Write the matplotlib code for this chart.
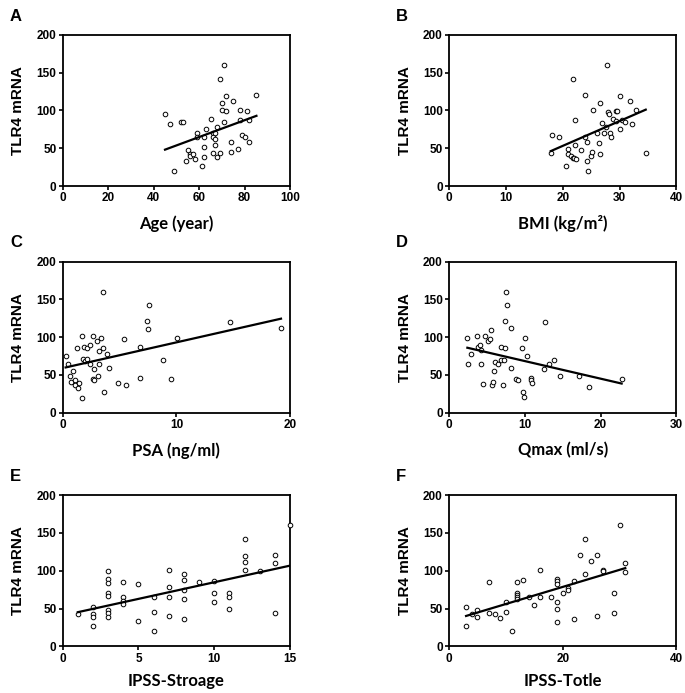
import numpy as np
import matplotlib
matplotlib.use("Agg")
import matplotlib.pyplot as plt

plt.rcParams['font.family'] = ['Liberation Sans', 'DejaVu Sans']

# A: Age
age_x = [45, 47, 49, 51.9, 53.1, 54.1, 55, 55.8, 56.2, 57.1, 58.1, 59, 59, 61.1, 62.1, 62.1, 62.1,
         63, 65.1, 66.1, 66.1, 66.1, 67, 67, 67, 68, 68, 69.1, 69.1, 70.1, 70.1, 71, 71, 72, 72,
         74.1, 74.1, 75, 77.1, 78.1, 78.1, 79, 80, 81.1, 82.1, 82.1, 85.2]
age_y = [94.9, 81.7, 19.9, 84.8, 84.8, 33.1, 48.1, 42.8, 39.7, 42.8, 36.2, 69.8, 65.3, 26.9, 52.1, 64.9, 38.0,
         75.1, 89.2, 69.8, 65.3, 44.2, 62.7, 69.8, 54.7, 77.7, 38.9, 141.7, 44.2, 100.7, 109.9, 160.3, 84.8, 119.6, 98.9,
         57.8, 45.0, 112.1, 49.0, 100.7, 87.0, 67.1, 65.3, 98.9, 58.7, 87.0, 121.0]

# B: BMI
bmi_x = [17.9, 18.1, 19.3, 20.6, 20.9, 20.9, 21.4, 21.8, 21.8, 22.0, 22.2, 22.2, 22.4, 23.2, 24.0, 24.0,
         24.2, 24.2, 24.5, 24.9, 25.2, 25.3, 26.1, 26.4, 26.5, 26.6, 26.9, 27.2, 27.6, 27.8, 27.9, 28.2,
         28.4, 28.5, 28.9, 29.3, 29.4, 29.6, 30.0, 30.0, 30.4, 31.0, 31.9, 32.1, 32.9, 34.6]
bmi_y = [43.6, 67.0, 64.8, 26.4, 48.9, 42.3, 39.2, 141.9, 37.0, 36.6, 86.8, 54.6, 35.7, 47.6, 120.7, 64.8,
         58.6, 32.6, 19.8, 39.6, 44.9, 100.9, 70.0, 57.3, 110.1, 42.3, 83.7, 70.0, 78.0, 159.9, 97.4, 94.7,
         70.0, 64.8, 88.1, 85.5, 98.7, 98.7, 119.8, 74.9, 86.8, 84.6, 111.9, 81.5, 100.9, 43.6]

# C: PSA
psa_x = [0.26, 0.47, 0.67, 0.73, 0.88, 1.06, 1.09, 1.26, 1.35, 1.47, 1.67, 1.70, 1.76, 1.85, 1.94, 2.11,
         2.17, 2.38, 2.40, 2.64, 2.67, 2.73, 2.76, 2.99, 3.08, 3.17, 3.20, 3.37, 3.52, 3.55, 3.67, 3.87,
         4.08, 4.87, 5.40, 5.57, 6.77, 6.77, 7.39, 7.48, 7.62, 8.80, 9.53, 10.03, 14.7, 19.2]
psa_y = [75.2, 65.1, 48.4, 40.4, 55.4, 43.1, 36.5, 85.3, 33.0, 38.7, 19.8, 101.1, 70.8, 87.5, 68.1, 70.8,
         85.3, 89.2, 65.1, 101.1, 44.0, 58.0, 43.1, 94.9, 48.8, 82.2, 65.1, 98.9, 160.4, 85.3, 26.8, 77.8,
         59.3, 39.1, 98.0, 36.9, 87.0, 45.3, 121.3, 110.3, 142.4, 70.3, 44.0, 98.9, 120.0, 112.1]

# D: Qmax
qmax_x = [2.42, 2.51, 2.90, 3.74, 3.87, 4.09, 4.18, 4.18, 4.53, 4.70, 5.10, 5.45, 5.54, 5.63, 5.76, 5.98,
          6.02, 6.42, 6.81, 6.86, 7.12, 7.21, 7.34, 7.43, 7.56, 7.69, 8.13, 8.22, 8.88, 9.10, 9.63, 9.71,
          9.85, 10.02, 10.33, 10.77, 10.81, 10.95, 12.53, 12.70, 13.23, 13.80, 14.59, 17.14, 18.46, 22.77]
qmax_y = [98.9, 65.1, 77.8, 101.1, 87.0, 89.2, 82.6, 65.1, 37.8, 101.1, 94.9, 98.0, 109.9, 36.9, 40.0, 54.9,
          66.8, 65.1, 87.0, 69.5, 36.0, 69.5, 85.3, 121.3, 160.4, 142.4, 58.9, 112.1, 44.0, 43.1, 85.3, 26.8,
          20.2, 98.9, 74.7, 45.3, 43.1, 38.7, 58.0, 120.0, 65.1, 70.3, 48.4, 48.8, 33.4, 44.0]

# E: IPSS-Storage
ipss_s_x = [1, 2, 2, 2, 2, 3, 3, 3, 3, 3, 3, 3, 3, 4, 4, 4, 4, 5, 5, 6, 6, 6, 7, 7, 7, 7,
            8, 8, 8, 8, 8, 9, 10, 10, 10, 11, 11, 11, 12, 12, 12, 12, 13, 14, 14, 14, 15]
ipss_s_y = [43.0, 52.2, 43.4, 38.2, 27.2, 99.1, 88.6, 84.2, 70.6, 66.7, 48.7, 44.3, 39.0,
            84.6, 65.4, 59.6, 55.7, 82.0, 32.9, 65.4, 45.2, 20.2, 100.9, 78.5, 65.4, 40.4,
            95.2, 87.3, 75.0, 62.7, 36.0, 84.6, 86.8, 70.2, 58.3, 70.3, 65.4, 49.1,
            141.7, 119.7, 111.8, 100.9, 99.6, 120.6, 110.1, 43.9, 160.0]

# F: IPSS-Total
ipss_t_x = [3, 3, 4, 5, 5, 7, 7, 8, 9, 10, 10, 11, 12, 12, 12, 12, 12, 13, 14, 15, 16, 16, 18,
            19, 19, 19, 19, 19, 19, 20, 21, 21, 22, 22, 23, 24, 24, 25, 26, 26, 27, 27, 29, 29, 30, 31, 31]
ipss_t_y = [52.1, 26.9, 43.2, 48.1, 38.8, 85.1, 44.1, 42.8, 37.9, 59.1, 45.0, 19.9, 85.1, 70.6, 67.5,
            64.8, 62.6, 87.3, 64.8, 54.7, 101.0, 65.3, 65.3, 89.1, 86.0, 82.9, 58.2, 49.0, 32.6, 70.1,
            77.6, 75.0, 86.9, 36.2, 120.4, 95.3, 142.5, 112.5, 121.3, 39.7, 100.6, 99.7, 70.1, 44.1,
            160.6, 110.3, 98.8]

panels = [
    ("A", age_x, age_y, "Age (year)", (0, 100), [0, 20, 40, 60, 80, 100]),
    ("B", bmi_x, bmi_y, "BMI (kg/m²)", (0, 40), [0, 10, 20, 30, 40]),
    ("C", psa_x, psa_y, "PSA (ng/ml)", (0, 20), [0, 10, 20]),
    ("D", qmax_x, qmax_y, "Qmax (ml/s)", (0, 30), [0, 10, 20, 30]),
    ("E", ipss_s_x, ipss_s_y, "IPSS-Stroage", (0, 15), [0, 5, 10, 15]),
    ("F", ipss_t_x, ipss_t_y, "IPSS-Totle", (0, 40), [0, 20, 40]),
]

fig = plt.figure(figsize=(6.85, 6.93), dpi=100)

lefts = [0.0915, 0.6555]
bottoms = [0.7316, 0.4045, 0.0674]
w = 0.332
h = 0.218

for i, (letter, xs, ys, xlabel, xlim, xticks) in enumerate(panels):
    row, col = divmod(i, 2)
    ax = fig.add_axes([lefts[col], bottoms[row], w, h])
    xs = np.array(xs)
    ys = np.array(ys)
    ax.scatter(xs, ys, s=11, facecolors='white', edgecolors='black', linewidths=0.7,
               zorder=3, clip_on=False)
    # linear fit drawn over the data range
    k, b = np.polyfit(xs, ys, 1)
    lx = np.array([xs.min(), xs.max()])
    ax.plot(lx, k * lx + b, color='black', lw=1.6, zorder=4)
    ax.set_xlim(*xlim)
    ax.set_ylim(0, 200)
    ax.set_xticks(xticks)
    ax.set_yticks([0, 50, 100, 150, 200])
    for s in ax.spines.values():
        s.set_linewidth(1.3)
    ax.tick_params(direction='out', length=3, width=1.2, labelsize=8.5, pad=1.5)
    for t in ax.get_xticklabels() + ax.get_yticklabels():
        t.set_fontweight('bold')
    ax.set_ylabel("TLR4 mRNA", fontsize=11, fontweight='bold', labelpad=8)
    ax.set_xlabel(xlabel, fontsize=12, fontweight='bold', labelpad=8 if row < 2 else 6,
                  family=['Lato', 'DejaVu Sans'])
    fig.text(lefts[col] - 0.077, bottoms[row] + h + 0.027, letter,
             fontsize=12, fontweight='bold', ha='left', va='center')

fig.savefig("out.png", dpi=100)
